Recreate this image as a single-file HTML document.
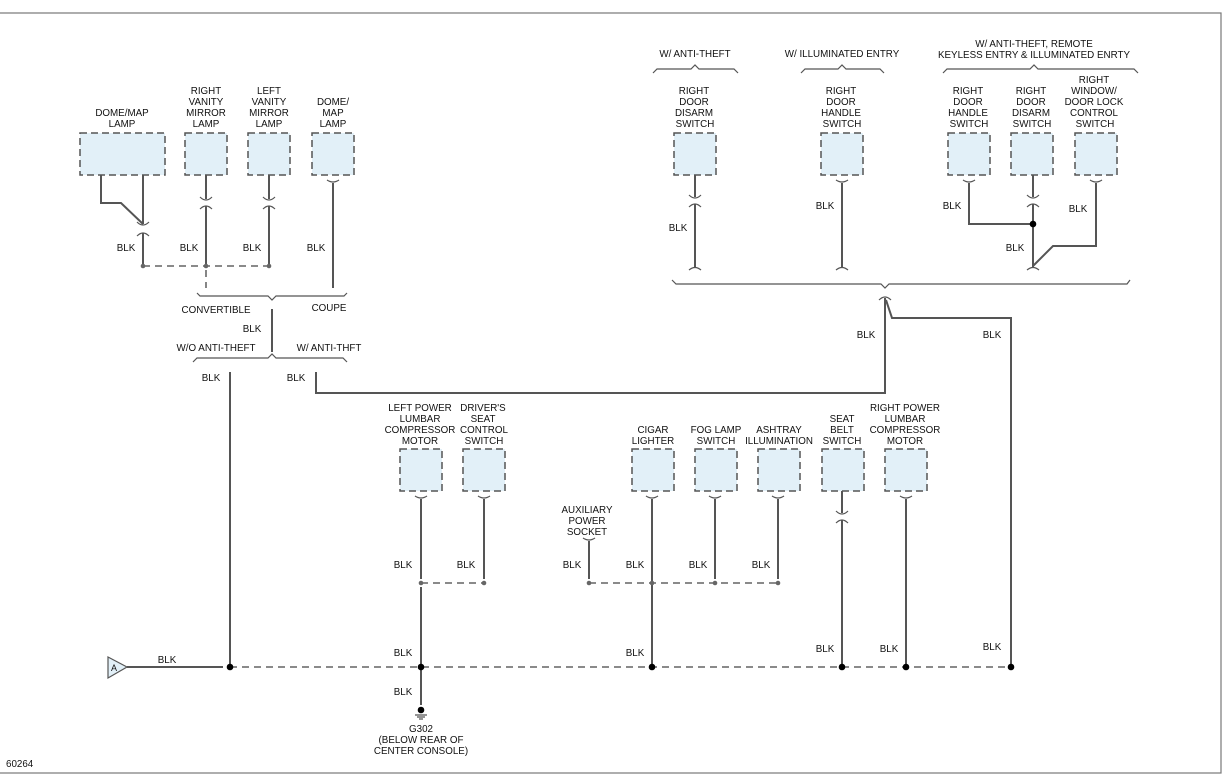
<!DOCTYPE html>
<html><head><meta charset="utf-8"><style>
body{margin:0;background:#fff}
svg{display:block}
text{font-family:"Liberation Sans",Arial,sans-serif;font-size:9.8px;fill:#111;text-anchor:middle}
.w{stroke:#555;stroke-width:2;fill:none}
.t{stroke:#555;stroke-width:1.2;fill:none}
.d{stroke:#444;stroke-width:1.3;fill:none;stroke-dasharray:7,5}
.b{fill:#e2f0f8;stroke:#555;stroke-width:1.5;stroke-dasharray:7,4}
.l{text-anchor:start}
</style></head><body>
<svg width="1230" height="783" viewBox="0 0 1230 783">
<rect x="-2" y="13" width="1223" height="760" fill="none" stroke="#777" stroke-width="1.2"/>

<rect class="b" x="80" y="133" width="85" height="42"/>
<rect class="b" x="185" y="133" width="42" height="42"/>
<rect class="b" x="248" y="133" width="42" height="42"/>
<rect class="b" x="312" y="133" width="42" height="42"/>
<text x="122" y="116">DOME/MAP</text><text x="122" y="127">LAMP</text>
<text x="206" y="94">RIGHT</text><text x="206" y="105">VANITY</text><text x="206" y="116">MIRROR</text><text x="206" y="127">LAMP</text>
<text x="269" y="94">LEFT</text><text x="269" y="105">VANITY</text><text x="269" y="116">MIRROR</text><text x="269" y="127">LAMP</text>
<text x="333" y="105">DOME/</text><text x="333" y="116">MAP</text><text x="333" y="127">LAMP</text>

<path class="w" d="M101 175 V203 H121 L143 224 M143 175 V224 M143 233 V266"/>
<path class="t" d="M137 222 Q143 228 149 222 M137 236 Q143 230 149 236"/>
<path class="w" d="M206 175 V199 M206 206 V266 M269 175 V199 M269 206 V266"/>
<path class="t" d="M200 197 Q206 203 212 197 M200 209 Q206 203 212 209 M263 197 Q269 203 275 197 M263 209 Q269 203 275 209"/>
<path class="w" d="M333 183 V288"/>
<path class="t" d="M327 180 Q333 184 339 180"/>
<path class="d" d="M143 266 H269"/>
<circle cx="143" cy="266" r="2.3" fill="#666"/><circle cx="206" cy="266" r="2.3" fill="#666"/><circle cx="269" cy="266" r="2.3" fill="#666"/>
<path class="d" d="M206 270 V288"/>
<text x="126" y="251">BLK</text><text x="189" y="251">BLK</text><text x="252" y="251">BLK</text><text x="316" y="251">BLK</text>
<path class="t" d="M197 293 L200 296 H268 L272 300 L276 296 H344 L347 293"/>
<text x="216" y="313">CONVERTIBLE</text><text x="329" y="311">COUPE</text>
<path class="w" d="M272 309 V352"/>
<text x="252" y="332">BLK</text>
<text x="216" y="351">W/O ANTI-THEFT</text><text x="329" y="351">W/ ANTI-THFT</text>
<path class="t" d="M193 362 L197 358 H268 L272 354 L276 358 H343 L347 362"/>
<text x="211" y="381">BLK</text><text x="296" y="381">BLK</text>
<path class="w" d="M230 372 V667 M316 372 V393 H885 V298"/>
<path class="t" d="M879 300 Q885 294 891 300"/>
<path class="w" d="M1011 667 V318 H892 L886 300"/>
<text x="866" y="338">BLK</text><text x="992" y="338">BLK</text>

<text x="695" y="57">W/ ANTI-THEFT</text>
<text x="842" y="57">W/ ILLUMINATED ENTRY</text>
<text x="1034" y="47">W/ ANTI-THEFT, REMOTE</text>
<text x="1034" y="58">KEYLESS ENTRY &amp; ILLUMINATED ENRTY</text>
<path class="t" d="M653 73 L657 69 H691 L695 65 L699 69 H734 L738 73"/>
<path class="t" d="M801 73 L805 69 H838 L842 65 L846 69 H880 L884 73"/>
<path class="t" d="M943 73 L947 69 H1030 L1034 65 L1038 69 H1134 L1138 73"/>
<rect class="b" x="674" y="133" width="42" height="42"/>
<rect class="b" x="821" y="133" width="42" height="42"/>
<rect class="b" x="948" y="133" width="42" height="42"/>
<rect class="b" x="1011" y="133" width="42" height="42"/>
<rect class="b" x="1075" y="133" width="42" height="42"/>
<text x="694" y="94">RIGHT</text><text x="694" y="105">DOOR</text><text x="694" y="116">DISARM</text><text x="695" y="127">SWITCH</text>
<text x="841" y="94">RIGHT</text><text x="841" y="105">DOOR</text><text x="841" y="116">HANDLE</text><text x="842" y="127">SWITCH</text>
<text x="968" y="94">RIGHT</text><text x="968" y="105">DOOR</text><text x="968" y="116">HANDLE</text><text x="969" y="127">SWITCH</text>
<text x="1031" y="94">RIGHT</text><text x="1031" y="105">DOOR</text><text x="1031" y="116">DISARM</text><text x="1032" y="127">SWITCH</text>
<text x="1094" y="83">RIGHT</text><text x="1094" y="94">WINDOW/</text><text x="1094" y="105">DOOR LOCK</text><text x="1094" y="116">CONTROL</text><text x="1095" y="127">SWITCH</text>
<path class="w" d="M695 175 V197 M695 204 V268 M842 183 V268 M969 183 V224 H1033 M1033 175 V197 M1033 204 V268 M1096 183 V246 H1053 L1033 266"/>
<path class="t" d="M689 195 Q695 201 701 195 M689 207 Q695 201 701 207 M1027 195 Q1033 201 1039 195 M1027 207 Q1033 201 1039 207"/>
<path class="t" d="M836 180 Q842 184 848 180 M963 180 Q969 184 975 180 M1090 180 Q1096 184 1102 180"/>
<path class="t" d="M689 270 Q695 265 701 270 M836 270 Q842 265 848 270 M1027 270 Q1033 265 1039 270"/>
<circle cx="1033" cy="224" r="3.3" fill="#000"/>
<text x="678" y="231">BLK</text><text x="825" y="209">BLK</text><text x="952" y="209">BLK</text><text x="1015" y="251">BLK</text><text x="1078" y="212">BLK</text>
<path class="t" d="M672 280 L676 284 H881 L885 288 L889 284 H1127 L1130 280"/>

<rect class="b" x="400" y="449" width="42" height="42"/>
<rect class="b" x="463" y="449" width="42" height="42"/>
<rect class="b" x="632" y="449" width="42" height="42"/>
<rect class="b" x="695" y="449" width="42" height="42"/>
<rect class="b" x="758" y="449" width="42" height="42"/>
<rect class="b" x="822" y="449" width="42" height="42"/>
<rect class="b" x="885" y="449" width="42" height="42"/>
<text x="420" y="411">LEFT POWER</text><text x="420" y="422">LUMBAR</text><text x="420" y="433">COMPRESSOR</text><text x="420" y="444">MOTOR</text>
<text x="483" y="411">DRIVER'S</text><text x="483" y="422">SEAT</text><text x="484" y="433">CONTROL</text><text x="484" y="444">SWITCH</text>
<text x="653" y="433">CIGAR</text><text x="653" y="444">LIGHTER</text>
<text x="716" y="433">FOG LAMP</text><text x="716" y="444">SWITCH</text>
<text x="779" y="433">ASHTRAY</text><text x="779" y="444">ILLUMINATION</text>
<text x="842" y="422">SEAT</text><text x="842" y="433">BELT</text><text x="842" y="444">SWITCH</text>
<text x="905" y="411">RIGHT POWER</text><text x="905" y="422">LUMBAR</text><text x="905" y="433">COMPRESSOR</text><text x="905" y="444">MOTOR</text>
<text x="587" y="513">AUXILIARY</text><text x="587" y="524">POWER</text><text x="587" y="535">SOCKET</text>
<path class="w" d="M421 499 V579 M421 587 V705 M484 499 V579 M589 541 V579 M652 499 V667 M715 499 V579 M778 499 V579 M842 491 V513 M842 520 V667 M906 499 V667"/>
<path class="t" d="M415 496 Q421 500 427 496 M478 496 Q484 500 490 496 M583 538 Q589 542 595 538 M646 496 Q652 500 658 496 M709 496 Q715 500 721 496 M772 496 Q778 500 784 496 M900 496 Q906 500 912 496 M836 511 Q842 517 848 511 M836 523 Q842 517 848 523"/>
<path class="d" d="M421 583 H484 M589 583 H778"/>
<g fill="#666"><circle cx="421" cy="583" r="2.3"/><circle cx="484" cy="583" r="2.3"/><circle cx="589" cy="583" r="2.3"/><circle cx="652" cy="583" r="2.3"/><circle cx="715" cy="583" r="2.3"/><circle cx="778" cy="583" r="2.3"/></g>
<text x="403" y="568">BLK</text><text x="466" y="568">BLK</text><text x="572" y="568">BLK</text><text x="635" y="568">BLK</text><text x="698" y="568">BLK</text><text x="761" y="568">BLK</text>
<text x="403" y="656">BLK</text><text x="635" y="656">BLK</text><text x="825" y="652">BLK</text><text x="889" y="652">BLK</text><text x="992" y="650">BLK</text>
<text x="403" y="695">BLK</text>

<path class="d" d="M230 667 H1011"/>
<path d="M108 657 L127 667 L108 678 Z" fill="#e2f0f8" stroke="#555" stroke-width="1.2"/>
<text x="114" y="671" style="font-size:9px">A</text>
<path class="w" d="M127 667 H223"/>
<text x="167" y="663">BLK</text>
<g fill="#000"><circle cx="230" cy="667" r="3.3"/><circle cx="421" cy="667" r="3.3"/><circle cx="652" cy="667" r="3.3"/><circle cx="842" cy="667" r="3.3"/><circle cx="906" cy="667" r="3.3"/><circle cx="1011" cy="667" r="3.3"/><circle cx="421" cy="710" r="3.3"/></g>
<path class="t" d="M415 715 H427 M417 717 H425 M419 719 H423" stroke-width="0.8"/>
<text x="421" y="732">G302</text>
<text x="421" y="743">(BELOW REAR OF</text>
<text x="421" y="754">CENTER CONSOLE)</text>
<text x="6" y="767" class="l">60264</text>
</svg>
</body></html>
